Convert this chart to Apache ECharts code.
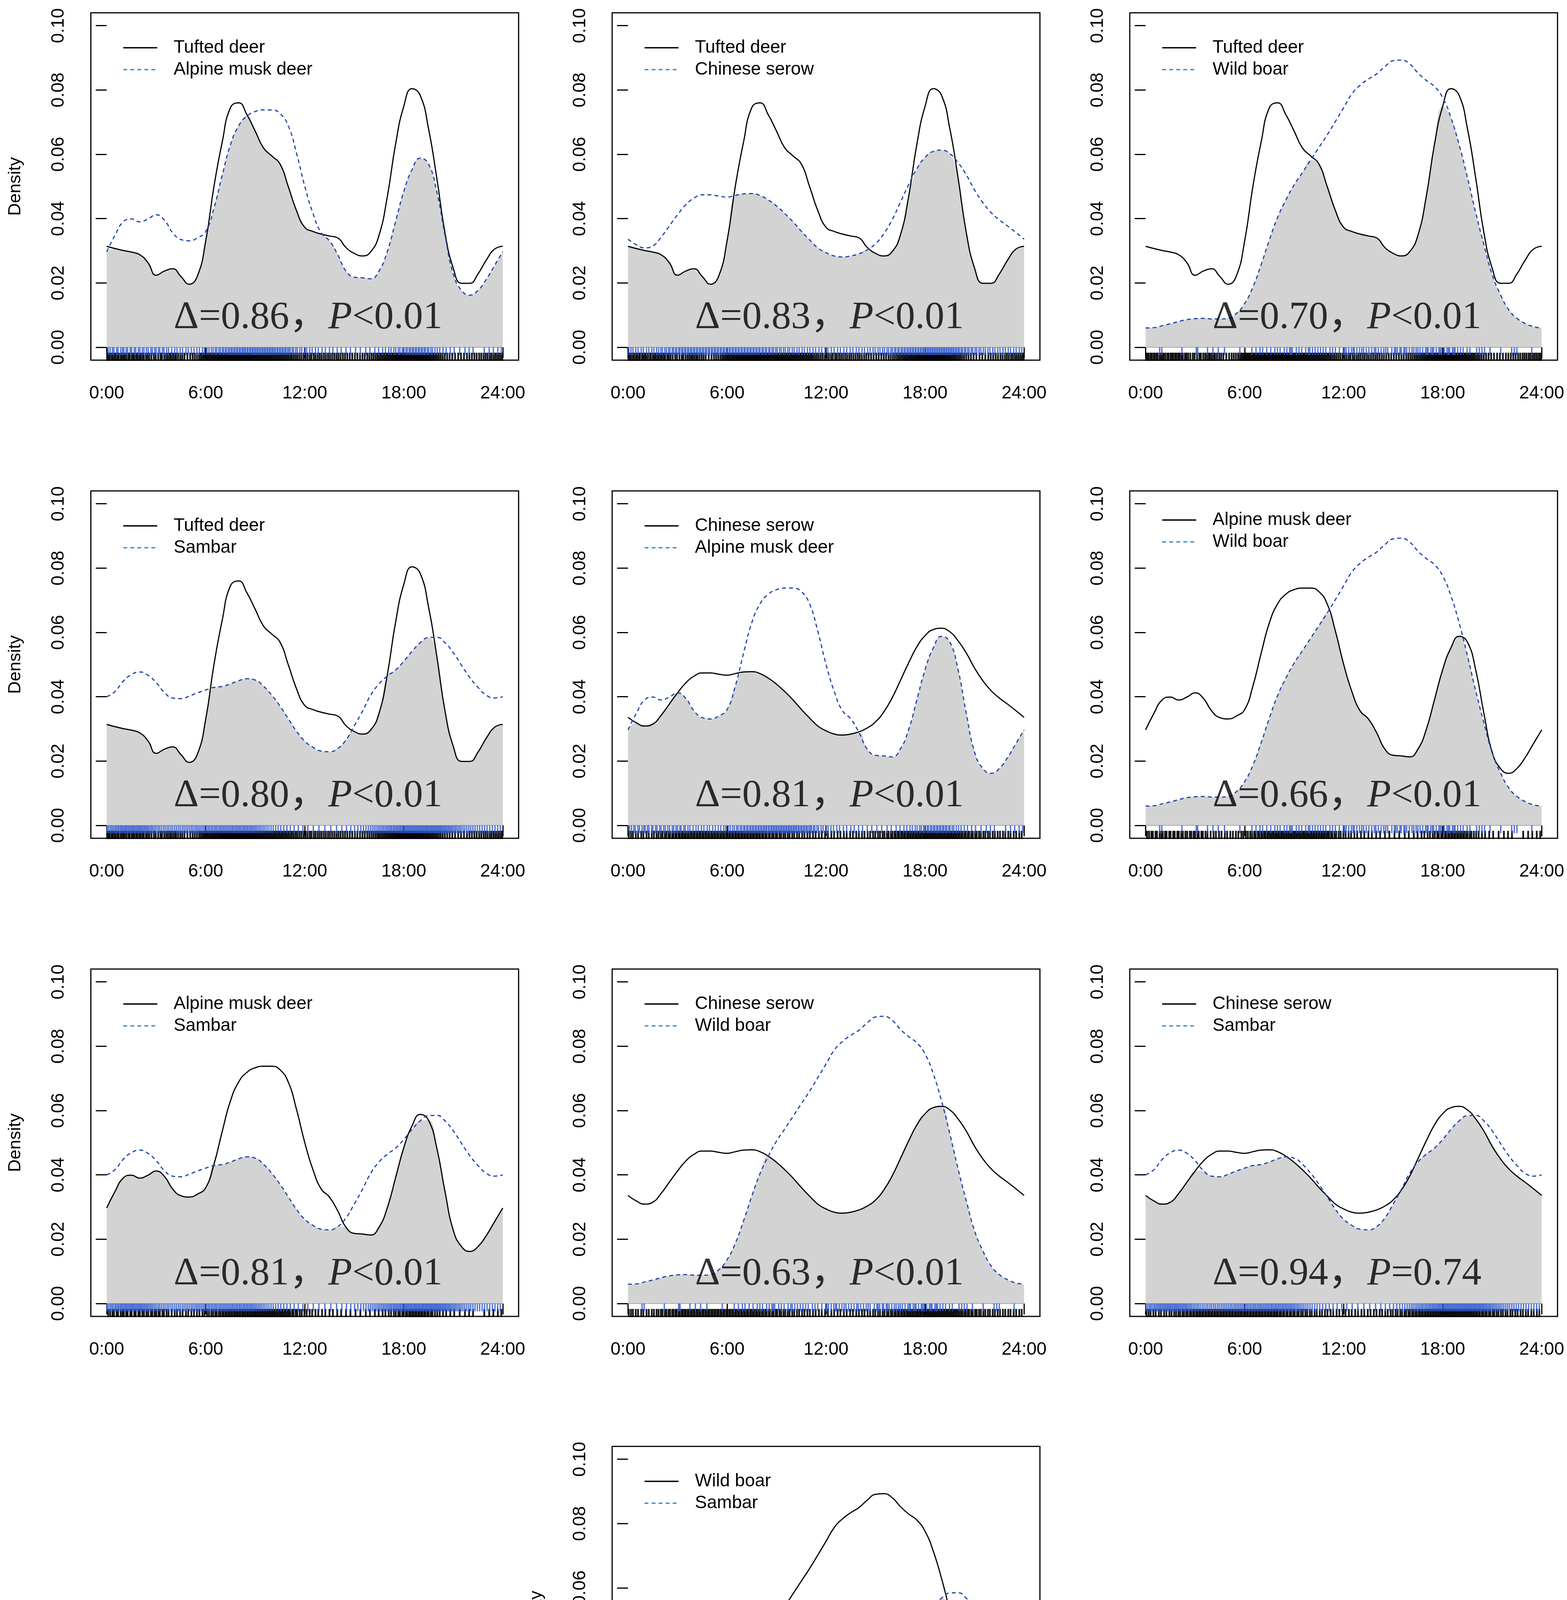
<!DOCTYPE html>
<html><head><meta charset="utf-8">
<script src="https://cdn.jsdelivr.net/npm/echarts@6/dist/echarts.min.js"></script>
<style>html,body{margin:0;padding:0;background:#fff}#c{width:4011px;height:4831px}</style>
</head><body><div id="c"></div>
<script>
// ---------------- data ----------------
const HOURS = [0,0.5,1,1.5,2,2.5,3,3.5,4,4.5,5,5.5,6,6.5,7,7.5,8,8.5,9,9.5,10,10.5,11,11.5,12,12.5,13,13.5,14,14.5,15,15.5,16,16.5,17,17.5,18,18.5,19,19.5,20,20.5,21,21.5,22,22.5,23,23.5,24];
const X_TICKS = [0,6,12,18,24];
const X_LABELS = ['0:00','6:00','12:00','18:00','24:00'];
const Y_TICKS = [0,0.02,0.04,0.06,0.08,0.10];
const Y_LABELS = ['0.00','0.02','0.04','0.06','0.08','0.10'];

const SPECIES = ['Tufted deer','Alpine musk deer','Chinese serow','Wild boar','Sambar'];

const DENS_TUFTED = [.0314,.0307,.0301,.0296,.0288,.0263,.0224,.0237,.0244,.0220,.0196,.0222,.0330,.0500,.0638,.0745,.0760,.0723,.0672,.0620,.0595,.0570,.0500,.0425,.0373,.0360,.0352,.0346,.0340,.0310,.0292,.0284,.0297,.0348,.0467,.0630,.0749,.0804,.0783,.0680,.0527,.0356,.0246,.0199,.0199,.0228,.0271,.0305,.0314];
const DENS_MUSK = [.0297,.0348,.0390,.0399,.0390,.0399,.0412,.0395,.0356,.0335,.0331,.0340,.0360,.0433,.0535,.0630,.0689,.0719,.0733,.0738,.0738,.0727,.0689,.0604,.0501,.0416,.0356,.0331,.0288,.0237,.0218,.0216,.0213,.0237,.0297,.0390,.0484,.0552,.0588,.0570,.0484,.0348,.0228,.0177,.0162,.0177,.0211,.0254,.0297];
const DENS_SEROW = [.0336,.0319,.0309,.0315,.0342,.0377,.0412,.0443,.0464,.0474,.0474,.0470,.0467,.0472,.0477,.0478,.0472,.0458,.0439,.0416,.0390,.0361,.0334,.0309,.0294,.0284,.0281,.0284,.0291,.0303,.0322,.0353,.0396,.0450,.0505,.0555,.0590,.0609,.0613,.0602,.0574,.0536,.0489,.0450,.0419,.0396,.0377,.0357,.0336];
const DENS_BOAR = [.0060,.0061,.0067,.0073,.0080,.0086,.0089,.0090,.0088,.0088,.0090,.0105,.0136,.0187,.0257,.0334,.0404,.0458,.0505,.0543,.0582,.0621,.0660,.0702,.0745,.0788,.0815,.0834,.0850,.0873,.0891,.0893,.0881,.0853,.0830,.0811,.0776,.0714,.0629,.0528,.0419,.0319,.0226,.0164,.0117,.0090,.0074,.0064,.0060];
const DENS_SAMBAR = [.0400,.0416,.0448,.0469,.0477,.0467,.0444,.0413,.0396,.0394,.0402,.0412,.0421,.0429,.0432,.0440,.0450,.0456,.0452,.0433,.0405,.0371,.0332,.0293,.0262,.0243,.0231,.0229,.0239,.0266,.0309,.0355,.0405,.0440,.0464,.0483,.0510,.0541,.0568,.0584,.0585,.0568,.0537,.0498,.0460,.0429,.0405,.0396,.0400];

const OBS_TUFTED = [0.03,0.11,0.19,0.30,0.37,0.48,0.55,0.66,0.72,0.84,0.93,1.02,1.10,1.21,1.33,1.39,1.51,1.60,1.68,1.79,1.87,1.98,2.06,2.17,2.25,2.38,2.47,2.58,2.71,2.86,2.97,3.12,3.26,3.35,3.49,3.61,3.72,3.83,3.91,4.02,4.13,4.21,4.33,4.46,4.58,4.71,4.89,5.06,5.21,5.34,5.47,5.60,5.71,5.80,5.89,5.96,6.04,6.11,6.17,6.25,6.31,6.38,6.44,6.51,6.57,6.63,6.70,6.75,6.82,6.87,6.93,6.98,7.03,7.08,7.14,7.19,7.24,7.30,7.34,7.39,7.45,7.50,7.55,7.61,7.65,7.71,7.76,7.80,7.86,7.91,7.95,8.01,8.06,8.12,8.17,8.22,8.28,8.33,8.39,8.44,8.50,8.55,8.61,8.66,8.72,8.78,8.83,8.89,8.95,9.00,9.07,9.12,9.19,9.25,9.31,9.38,9.44,9.50,9.57,9.63,9.70,9.76,9.83,9.90,9.96,10.03,10.10,10.17,10.24,10.31,10.39,10.46,10.54,10.61,10.69,10.78,10.86,10.95,11.04,11.14,11.23,11.34,11.45,11.56,11.68,11.80,11.93,12.05,12.17,12.30,12.41,12.55,12.66,12.79,12.91,13.03,13.16,13.28,13.41,13.53,13.66,13.79,13.92,14.04,14.17,14.31,14.44,14.58,14.73,14.88,15.04,15.19,15.35,15.50,15.64,15.79,15.92,16.05,16.17,16.29,16.40,16.50,16.60,16.70,16.79,16.87,16.95,17.03,17.10,17.17,17.23,17.30,17.36,17.42,17.48,17.54,17.59,17.65,17.70,17.75,17.81,17.86,17.91,17.96,18.02,18.07,18.12,18.17,18.22,18.28,18.32,18.37,18.43,18.47,18.52,18.58,18.63,18.67,18.72,18.78,18.83,18.89,18.94,18.99,19.05,19.11,19.16,19.22,19.28,19.35,19.41,19.47,19.54,19.61,19.69,19.76,19.84,19.93,20.03,20.13,20.24,20.36,20.49,20.63,20.78,20.94,21.11,21.30,21.47,21.65,21.83,21.98,22.13,22.28,22.42,22.57,22.70,22.84,22.96,23.08,23.21,23.32,23.44,23.55,23.66,23.77,23.88,23.97];
const OBS_MUSK = [0.09,0.21,0.35,0.44,0.60,0.69,0.85,0.96,1.04,1.18,1.27,1.43,1.51,1.67,1.76,1.92,2.01,2.16,2.26,2.41,2.52,2.68,2.77,2.91,3.00,3.14,3.22,3.38,3.47,3.63,3.75,3.94,4.12,4.26,4.45,4.60,4.80,4.94,5.13,5.29,5.47,5.62,5.80,5.92,6.08,6.20,6.34,6.45,6.58,6.67,6.80,6.89,7.01,7.08,7.19,7.26,7.37,7.44,7.54,7.61,7.71,7.78,7.88,7.94,8.04,8.10,8.20,8.26,8.35,8.41,8.51,8.56,8.66,8.72,8.81,8.87,8.96,9.02,9.11,9.17,9.26,9.32,9.41,9.47,9.56,9.62,9.71,9.77,9.86,9.92,10.01,10.07,10.16,10.22,10.32,10.37,10.47,10.53,10.63,10.69,10.79,10.86,10.96,11.05,11.12,11.24,11.32,11.45,11.55,11.70,11.82,11.98,12.12,12.30,12.45,12.65,12.82,13.05,13.25,13.50,13.71,13.97,14.21,14.50,14.77,15.08,15.37,15.70,15.95,16.25,16.48,16.72,16.89,17.09,17.23,17.40,17.52,17.67,17.77,17.91,18.00,18.13,18.21,18.33,18.41,18.52,18.59,18.70,18.77,18.88,18.95,19.06,19.13,19.24,19.31,19.43,19.51,19.64,19.74,19.89,20.03,20.18,20.38,20.57,20.82,21.06,21.39,21.71,21.96,22.20,22.88,23.18,23.43,23.70,23.91];
const OBS_SEROW = [0.05,0.18,0.30,0.47,0.61,0.80,0.93,1.12,1.26,1.44,1.57,1.73,1.85,1.99,2.09,2.23,2.33,2.46,2.55,2.68,2.76,2.88,2.95,3.07,3.14,3.25,3.32,3.43,3.50,3.61,3.68,3.79,3.86,3.97,4.04,4.15,4.22,4.33,4.40,4.51,4.58,4.69,4.76,4.87,4.94,5.05,5.12,5.23,5.30,5.41,5.48,5.59,5.66,5.77,5.84,5.95,6.02,6.13,6.20,6.31,6.38,6.49,6.56,6.67,6.74,6.85,6.92,7.03,7.10,7.21,7.28,7.39,7.46,7.57,7.64,7.75,7.82,7.93,8.00,8.12,8.20,8.32,8.40,8.53,8.60,8.73,8.82,8.95,9.04,9.18,9.28,9.42,9.53,9.68,9.79,9.95,10.07,10.24,10.37,10.55,10.69,10.87,11.02,11.21,11.37,11.57,11.74,11.94,12.11,12.32,12.49,12.70,12.87,13.08,13.25,13.46,13.63,13.83,13.99,14.18,14.33,14.52,14.67,14.85,14.98,15.15,15.27,15.43,15.54,15.69,15.79,15.93,16.02,16.15,16.23,16.35,16.43,16.55,16.62,16.73,16.80,16.91,16.98,17.08,17.14,17.24,17.30,17.40,17.46,17.56,17.62,17.72,17.77,17.87,17.92,18.01,18.06,18.15,18.20,18.29,18.34,18.43,18.48,18.57,18.62,18.71,18.76,18.85,18.90,18.99,19.04,19.13,19.18,19.27,19.32,19.41,19.46,19.55,19.60,19.69,19.75,19.85,19.91,20.01,20.08,20.19,20.26,20.38,20.46,20.58,20.67,20.80,20.89,21.03,21.13,21.27,21.38,21.53,21.65,21.81,21.93,22.10,22.23,22.40,22.54,22.72,22.86,23.04,23.18,23.37,23.52,23.71,23.86];
const OBS_BOAR = [0.85,0.98,2.20,3.07,3.15,3.75,4.08,4.40,4.78,5.71,6.44,6.69,6.93,7.09,7.34,7.58,7.83,7.99,8.15,8.40,8.56,8.72,8.80,8.89,9.13,9.29,9.46,9.70,9.86,9.95,10.11,10.27,10.44,10.60,10.76,10.92,11.17,11.33,11.50,11.74,11.98,12.05,12.15,12.31,12.47,12.58,12.64,12.80,12.96,13.10,13.21,13.37,13.53,13.70,13.86,13.95,14.10,14.27,14.43,14.55,14.67,14.92,15.08,15.15,15.25,15.41,15.49,15.65,15.72,15.82,15.98,16.14,16.25,16.39,16.50,16.63,16.79,16.96,17.05,17.12,17.28,17.38,17.45,17.61,17.77,17.85,17.94,18.10,18.26,18.35,18.42,18.59,18.68,18.75,18.91,19.08,19.24,19.48,19.65,20.06,20.22,20.38,20.54,20.87,21.52,22.18,22.34,22.50,23.40];
const OBS_SAMBAR = [0.02,0.12,0.22,0.31,0.40,0.50,0.58,0.67,0.75,0.84,0.91,0.99,1.07,1.15,1.22,1.30,1.37,1.45,1.52,1.60,1.67,1.75,1.82,1.90,1.97,2.05,2.12,2.20,2.28,2.36,2.44,2.52,2.61,2.70,2.79,2.89,2.99,3.10,3.20,3.31,3.43,3.54,3.66,3.77,3.89,4.00,4.12,4.23,4.35,4.46,4.58,4.69,4.80,4.91,5.02,5.13,5.23,5.34,5.44,5.54,5.64,5.74,5.84,5.94,6.03,6.13,6.22,6.32,6.41,6.51,6.60,6.69,6.79,6.88,6.97,7.06,7.15,7.24,7.33,7.42,7.51,7.60,7.68,7.77,7.86,7.94,8.03,8.11,8.20,8.29,8.37,8.46,8.54,8.63,8.72,8.80,8.89,8.98,9.07,9.17,9.27,9.37,9.48,9.59,9.71,9.83,9.96,10.09,10.24,10.39,10.55,10.73,10.92,11.13,11.36,11.61,11.89,12.19,12.52,12.86,13.22,13.58,13.93,14.25,14.53,14.79,15.02,15.22,15.40,15.56,15.71,15.85,15.98,16.10,16.21,16.32,16.43,16.53,16.63,16.73,16.82,16.92,17.01,17.10,17.19,17.27,17.36,17.44,17.52,17.60,17.68,17.76,17.83,17.91,17.98,18.05,18.12,18.19,18.26,18.33,18.40,18.46,18.53,18.60,18.66,18.73,18.79,18.86,18.92,18.98,19.05,19.11,19.17,19.23,19.30,19.36,19.42,19.48,19.55,19.61,19.67,19.73,19.80,19.86,19.92,19.98,20.05,20.11,20.18,20.24,20.31,20.38,20.45,20.52,20.59,20.67,20.75,20.83,20.91,21.00,21.09,21.18,21.28,21.38,21.48,21.59,21.70,21.82,21.94,22.06,22.19,22.32,22.46,22.60,22.75,22.90,23.05,23.21,23.37,23.53,23.69,23.85];

// panels: first species (black solid) / second species (blue dashed) / overlap / test result
const PANEL_A = ['Tufted deer','Tufted deer','Tufted deer','Tufted deer','Chinese serow','Alpine musk deer','Alpine musk deer','Chinese serow','Chinese serow','Wild boar'];
const PANEL_B = ['Alpine musk deer','Chinese serow','Wild boar','Sambar','Alpine musk deer','Wild boar','Sambar','Wild boar','Sambar','Sambar'];
const PANEL_DELTA = ['0.86','0.83','0.70','0.80','0.81','0.66','0.81','0.63','0.94','0.60'];
const PANEL_P = ['<0.01','<0.01','<0.01','<0.01','<0.01','<0.01','<0.01','<0.01','=0.74','<0.01'];

const DENS = {'Tufted deer':DENS_TUFTED,'Alpine musk deer':DENS_MUSK,'Chinese serow':DENS_SEROW,'Wild boar':DENS_BOAR,'Sambar':DENS_SAMBAR};
const OBS = {'Tufted deer':OBS_TUFTED,'Alpine musk deer':OBS_MUSK,'Chinese serow':OBS_SEROW,'Wild boar':OBS_BOAR,'Sambar':OBS_SAMBAR};

// ---------------- layout ----------------
const PANEL_ROW = [0,0,0,1,1,1,2,2,2,3];
const PANEL_COL = [0,1,2,0,1,2,0,1,2,1];
const COL_X0 = [273.1, 1607.5, 2932.4];   // pixel of 0:00
const ROW_Y0 = [889, 2113, 3337, 4559];   // pixel of density 0
const PX_H = 1013.8 / 24;
const PX_V = 8233;
const XMIN = -0.96, XMAX = 24.96, YMIN = -0.004, YMAX = 0.104;
const SANS = "'Liberation Sans', Arial, sans-serif";
const SERIF = "'Liberation Serif', 'Times New Roman', 'Noto Sans CJK SC', serif";
const BLUE = '#1f45a8';
const BLUE_LEGEND = '#3a93d6';

const grids = [], xAxes = [], yAxes = [], legends = [], series = [];
PANEL_A.forEach((a, i) => {
  const b = PANEL_B[i];
  const r = PANEL_ROW[i], c = PANEL_COL[i];
  const showY = (c === 0) || i === 9;
  const showX = i === 9;
  grids.push({
    left: COL_X0[c] + XMIN * PX_H, width: (XMAX - XMIN) * PX_H,
    top: ROW_Y0[r] - YMAX * PX_V, height: (YMAX - YMIN) * PX_V,
    show: true, borderColor: '#000', borderWidth: 3, backgroundColor: 'transparent', containLabel: false
  });
  xAxes.push({
    gridIndex: i, type: 'value', min: XMIN, max: XMAX,
    axisLine: { show: false }, splitLine: { show: false },
    axisTick: { show: true, inside: false, length: 28, customValues: X_TICKS, lineStyle: { color: '#000', width: 3 } },
    axisLabel: { show: true, customValues: X_TICKS, margin: 62, fontSize: 46, lineHeight: 46, fontFamily: SANS, color: '#000',
      formatter: v => X_LABELS[X_TICKS.indexOf(v)] },
    name: showX ? 'Time' : '', nameLocation: 'middle', nameGap: 181,
    nameTextStyle: { fontSize: 45, lineHeight: 46, fontFamily: SANS, color: '#000' }
  });
  yAxes.push({
    gridIndex: i, type: 'value', min: YMIN, max: YMAX,
    axisLine: { show: false }, splitLine: { show: false },
    axisTick: { show: true, inside: false, length: 28, customValues: Y_TICKS, lineStyle: { color: '#000', width: 3 } },
    axisLabel: { show: true, customValues: Y_TICKS, rotate: 90, margin: 59, fontSize: 46, lineHeight: 46, fontFamily: SANS, color: '#000',
      formatter: v => Y_LABELS[Y_TICKS.indexOf(v)] },
    name: showY ? 'Density' : '', nameLocation: 'middle', nameGap: 170,
    nameTextStyle: { fontSize: 45, lineHeight: 46, fontFamily: SANS, color: '#000' }
  });
  const nameA = a + '#' + i + 'a', nameB = b + '#' + i + 'b';
  legends.push({
    orient: 'vertical', left: COL_X0[c] + 40.6, top: ROW_Y0[r] - 766.7 - 23 - (i === 5 ? 15 : 0),
    itemWidth: 87, itemHeight: 46, itemGap: 10, selectedMode: false, padding: 0,
    itemStyle: { opacity: 0, borderWidth: 0 },
    textStyle: { fontSize: 46, lineHeight: 46, fontFamily: SANS, color: '#000', padding: [0, 0, 0, 37] },
    formatter: n => n.split('#')[0],
    data: [
      { name: nameA, itemStyle: { opacity: 0, borderWidth: 0 }, lineStyle: { width: 3.5 } },
      { name: nameB, itemStyle: { opacity: 0, borderWidth: 0 }, lineStyle: { color: BLUE_LEGEND, width: 3.5 } }
    ]
  });
  const dA = DENS[a], dB = DENS[b];
  const pairs = arr => HOURS.map((h, k) => [h, arr[k]]);
  const overlap = HOURS.map((h, k) => [h, Math.min(dA[k], dB[k])]);
  series.push({
    type: 'line', name: 'overlap#' + i, xAxisIndex: i, yAxisIndex: i, data: overlap, smooth: true,
    symbol: 'none', silent: true, z: 1, lineStyle: { width: 0 }, areaStyle: { color: '#d3d3d3', opacity: 1 }
  });
  series.push({
    type: 'line', name: 'base#' + i, xAxisIndex: i, yAxisIndex: i, silent: true, z: 2, symbol: 'none',
    data: [[X_TICKS[0], 0], [X_TICKS[X_TICKS.length - 1], 0]], lineStyle: { color: '#a8a8a8', width: 2 }
  });
  series.push({
    type: 'scatter', name: 'rugA#' + i, xAxisIndex: i, yAxisIndex: i, silent: true, z: 3,
    symbol: 'rect', symbolSize: [4.5, 21], data: OBS[a].map(t => [t, -0.00296]),
    itemStyle: { color: '#000', opacity: 0.9 }
  });
  series.push({
    type: 'scatter', name: 'rugB#' + i, xAxisIndex: i, yAxisIndex: i, silent: true, z: 4,
    symbol: 'rect', symbolSize: [3.5, 20], data: OBS[b].map(t => [t, -0.00122]),
    itemStyle: { color: '#2d55c8', opacity: 0.8 }
  });
  series.push({
    type: 'line', name: nameA, xAxisIndex: i, yAxisIndex: i, data: pairs(dA), smooth: true, symbol: 'none', z: 5,
    lineStyle: { color: '#000', width: 3, type: 'solid' }, itemStyle: { color: '#000' }
  });
  series.push({
    type: 'line', name: nameB, xAxisIndex: i, yAxisIndex: i, data: pairs(dB), smooth: true, symbol: 'none', z: 6,
    lineStyle: { color: BLUE, width: 3, type: [10, 8] }, itemStyle: { color: BLUE }
  });
  series.push({
    type: 'scatter', name: 'note#' + i, xAxisIndex: i, yAxisIndex: i, silent: true, z: 10,
    symbolSize: 0, data: [[4.06, 0.0092]], itemStyle: { color: 'transparent' },
    label: {
      show: true, position: 'right', distance: 0,
      formatter: '{n|Δ=' + PANEL_DELTA[i] + '，}{i|P}{n|' + PANEL_P[i] + '}',
      rich: {
        n: { fontFamily: SERIF, fontSize: 100, color: '#000', lineHeight: 110 },
        i: { fontFamily: SERIF, fontSize: 100, fontStyle: 'italic', color: '#000', lineHeight: 110 }
      }
    }
  });
});

const chart = echarts.init(document.getElementById('c'), null, { renderer: 'canvas', width: 4011, height: 4831 });
chart.setOption({
  backgroundColor: '#fff', animation: false,
  grid: grids, xAxis: xAxes, yAxis: yAxes, legend: legends, series: series
});
</script>
</body></html>
